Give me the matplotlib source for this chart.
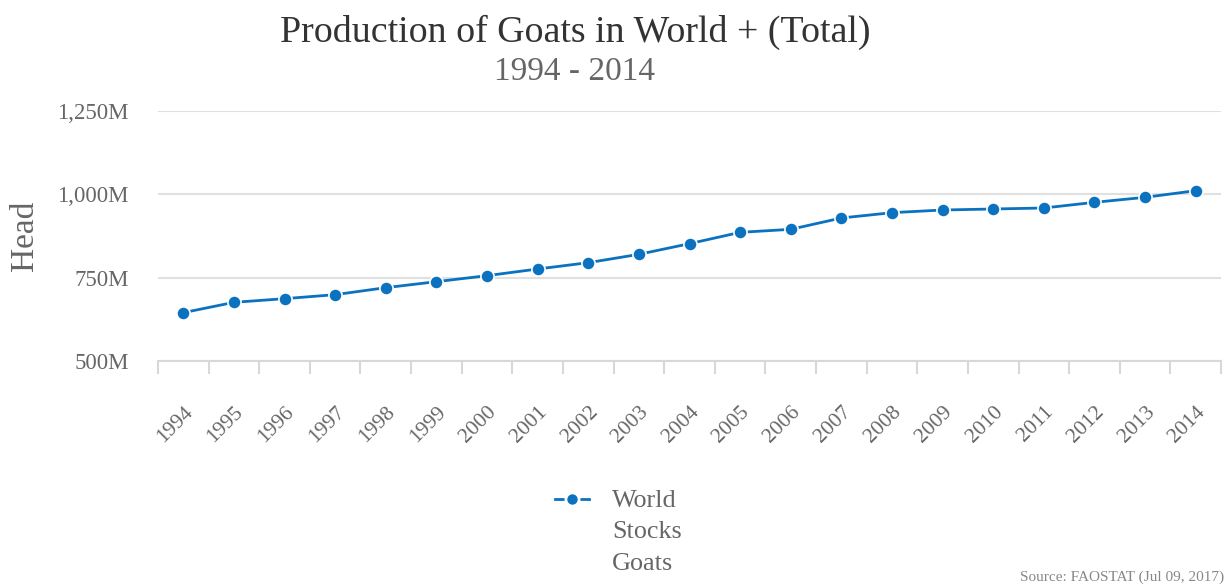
import matplotlib
matplotlib.use("Agg")
import matplotlib.pyplot as plt
from matplotlib.lines import Line2D
from matplotlib.ticker import FuncFormatter, FixedLocator

years = [str(y) for y in range(1994, 2015)]
stocks_m = [645, 676, 687, 699, 720, 738, 756, 776, 795, 820, 852,
            886, 895, 929, 945, 953, 956, 959, 976, 991, 1011]
yticks = [500, 750, 1000, 1250]

title = "Production of Goats in World + (Total)"
subtitle = "1994 - 2014"
source = "Source: FAOSTAT (Jul 09, 2017)"
legend_label = "World\nStocks\nGoats"

plt.rcParams['font.family'] = ['Liberation Serif', 'DejaVu Serif']
line_color = '#0b72c0'
grid_color = '#e0e0e0'
text_gray = '#666666'

fig = plt.figure(figsize=(12.31, 5.87), dpi=100)
ax = fig.add_axes([158/1231, 1-361/587, (1221-158)/1231, (361-111)/587])

x = list(range(len(years)))
ax.plot(x, stocks_m, color=line_color, lw=2, marker='o', ms=9.5,
        markeredgecolor='white', markeredgewidth=1.2, zorder=3)

ax.set_xlim(-0.5, len(years)-0.5)
ax.set_ylim(500, 1250)
ax.set_yticks(yticks)
ax.yaxis.set_major_formatter(FuncFormatter(lambda v, p: f"{int(v):,}M"))
ax.grid(axis='y', color=grid_color, lw=1.5)
ax.set_axisbelow(True)

ax.set_xticks(x)
ax.set_xticklabels(years, rotation=45, ha='right', rotation_mode='anchor',
                   fontsize=15.5, color=text_gray)
ax.xaxis.set_minor_locator(FixedLocator([i - 0.5 for i in range(len(years)+1)]))
ax.tick_params(axis='x', which='major', length=0, pad=30)
ax.tick_params(axis='x', which='minor', length=9, width=1.5, color='#d8d8d8')
ax.tick_params(axis='y', length=0, labelsize=16.5, labelcolor=text_gray, pad=21)

for s in ['top', 'right', 'left']:
    ax.spines[s].set_visible(False)
ax.spines['bottom'].set_color('#d8d8d8')
ax.spines['bottom'].set_linewidth(1.5)

fig.text(25/1231, 1-236/587, "Head", rotation=90, ha='center', va='center',
         fontsize=24, color=text_gray)

fig.text(575/1231, 1-32/587, title, ha='center', va='center', fontsize=27.3, color='#333333')
fig.text(575/1231, 1-72/587, subtitle, ha='center', va='center', fontsize=24, color=text_gray)
fig.text(1224/1231, 1-577/587, source, ha='right', va='center', fontsize=11, color='#888888')

handle = Line2D([], [], color=line_color, lw=2, linestyle='-', marker='o',
                ms=9.5, markeredgecolor='white', markeredgewidth=2)
leg = fig.legend([handle], [legend_label], loc='upper left',
                 bbox_to_anchor=(555/1231, 1-490/587), frameon=False, fontsize=18.8,
                 borderpad=0, borderaxespad=0,
                 handlelength=1.3, handletextpad=0.88, labelcolor=text_gray)
for t in leg.get_texts():
    t.set_linespacing(1.55)
for hp in leg._legend_handle_box.get_children():
    for c in hp.get_children():
        c.align = 'top'
    hp.align = 'top'

fig.savefig("out.png", dpi=100)
